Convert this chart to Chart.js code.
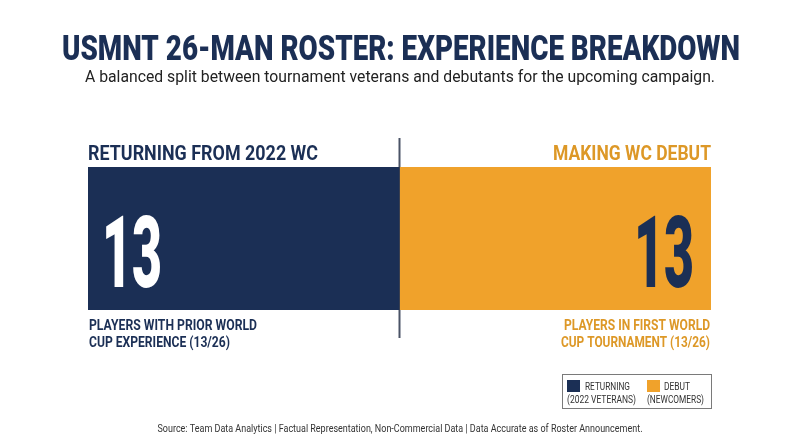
<!DOCTYPE html>
<html lang="en">
<head>
<meta charset="UTF-8" />
<title>USMNT 26-Man Roster: Experience Breakdown</title>
<script src="https://cdn.jsdelivr.net/npm/chart.js"></script>
<style>
  html, body { margin: 0; padding: 0; background: #ffffff; }
  #wrap { width: 800px; height: 447px; position: relative; }
</style>
</head>
<body>
<div id="wrap"><canvas id="rosterChart" width="800" height="447"></canvas></div>
<script>
// data
const categories = ["USMNT 26-Man Roster"];
const returningPlayers = [13];
const debutPlayers = [13];
const rosterSize = 26;
const seriesNames = ["RETURNING", "DEBUT"];
const seriesNotes = ["(2022 VETERANS)", "(NEWCOMERS)"];

const NAVY = "#1b2f55";
const ORANGE = "#f0a22b";
const ORANGE_TEXT = "#dd9827";
const FONT = "Roboto, 'Liberation Sans', sans-serif";

// draw text squeezed to a target width (fake condensed face)
function txt(ctx, s, x, y, size, weight, color, align, w) {
    ctx.save();
    ctx.font = weight + " " + size + "px " + FONT;
    ctx.fillStyle = color;
    ctx.textBaseline = "alphabetic";
    ctx.textAlign = align;
    const natural = ctx.measureText(s).width;
    const sx = w ? w / natural : 1;
    ctx.translate(x, y);
    ctx.scale(sx, 1);
    ctx.fillText(s, 0, 0);
    ctx.restore();
}

const overlay = {
    id: "overlay",
    beforeDatasetsDraw(chart) {
        // divider sits behind the bar
        const ctx = chart.ctx;
        const area = chart.chartArea;
        const splitX = chart.scales.x.getPixelForValue(returningPlayers[0]);
        ctx.save();
        ctx.strokeStyle = "#4a5366";
        ctx.lineWidth = 2;
        ctx.beginPath();
        ctx.moveTo(splitX, area.top - 29);
        ctx.lineTo(splitX, area.bottom + 28);
        ctx.stroke();
        ctx.restore();
    },
    afterDatasetsDraw(chart) {
        const ctx = chart.ctx;
        const area = chart.chartArea;
        const left = area.left, right = area.right;

        // title + subtitle
        txt(ctx, "USMNT 26-MAN ROSTER: EXPERIENCE BREAKDOWN", 401, 60, 35, "900", NAVY, "center", 678);
        txt(ctx, "A balanced split between tournament veterans and debutants for the upcoming campaign.", 400, 82, 17, "normal", "#222", "center", 630);

        // segment headers
        txt(ctx, "RETURNING FROM 2022 WC", left, 160, 21, "bold", NAVY, "left", 230);
        txt(ctx, "MAKING WC DEBUT", right, 160, 21, "bold", ORANGE_TEXT, "right", 158);

        // big numbers
        txt(ctx, String(returningPlayers[0]), left + 14, 287, 101, "900", "#ffffff", "left", 60);
        txt(ctx, String(debutPlayers[0]), right - 17, 287, 101, "900", NAVY, "right", 60);

        // captions
        txt(ctx, "PLAYERS WITH PRIOR WORLD", left + 1, 330, 15, "bold", NAVY, "left", 168);
        txt(ctx, "CUP EXPERIENCE (" + returningPlayers[0] + "/" + rosterSize + ")", left + 1, 347, 15, "bold", NAVY, "left", 141);
        txt(ctx, "PLAYERS IN FIRST WORLD", right - 1, 330, 15, "bold", ORANGE_TEXT, "right", 146);
        txt(ctx, "CUP TOURNAMENT (" + debutPlayers[0] + "/" + rosterSize + ")", right - 1, 347, 15, "bold", ORANGE_TEXT, "right", 149);

        // legend
        ctx.save();
        ctx.strokeStyle = "#7a7a7a";
        ctx.lineWidth = 1;
        ctx.strokeRect(562.5, 374.5, 149, 34);
        ctx.fillStyle = NAVY;
        ctx.fillRect(567, 380, 13, 12);
        ctx.fillStyle = ORANGE;
        ctx.fillRect(647, 380, 13, 12);
        ctx.restore();
        txt(ctx, seriesNames[0], 585, 390, 11, "normal", "#333", "left", 45);
        txt(ctx, seriesNotes[0], 567, 403, 11, "normal", "#333", "left", 69);
        txt(ctx, seriesNames[1], 664, 390, 11, "normal", "#333", "left", 26);
        txt(ctx, seriesNotes[1], 647, 403, 11, "normal", "#333", "left", 57);

        // footer
        txt(ctx, "Source: Team Data Analytics | Factual Representation, Non-Commercial Data | Data Accurate as of Roster Announcement.",
            400, 432, 11, "normal", "#333", "center", 485);
    }
};

new Chart(document.getElementById("rosterChart"), {
    type: "bar",
    data: {
        labels: categories,
        datasets: [
            { label: seriesNames[0], data: returningPlayers, backgroundColor: NAVY },
            { label: seriesNames[1], data: debutPlayers, backgroundColor: ORANGE }
        ]
    },
    options: {
        indexAxis: "y",
        responsive: false,
        animation: false,
        devicePixelRatio: 1,
        layout: { padding: { left: 88, right: 89, top: 167, bottom: 137 } },
        datasets: { bar: { barPercentage: 1, categoryPercentage: 1, borderWidth: 0 } },
        scales: {
            x: { stacked: true, min: 0, max: rosterSize, display: false },
            y: { stacked: true, display: false }
        },
        plugins: { legend: { display: false }, tooltip: { enabled: false } }
    },
    plugins: [overlay]
});
</script>
</body>
</html>
